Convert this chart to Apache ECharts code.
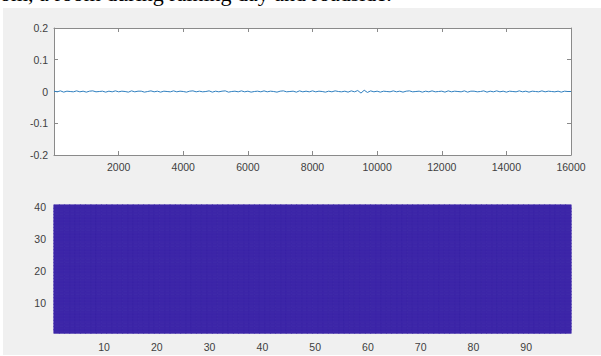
<!DOCTYPE html>
<html><head><meta charset="utf-8">
<script src="https://cdn.jsdelivr.net/npm/echarts@6/dist/echarts.min.js"></script>
<style>html,body{margin:0;padding:0;background:#fff;}#c{width:601px;height:356px;}</style>
</head><body><div id="c"></div>
<script>
// ---- data ----
const titleText = 'om, a room during raining day and roadside.';
const signalStep = 100; // samples between stored points
const signalValues = [
 0.001,-0.001,0.002,-0.002,0.001,0.000,-0.001,0.002,-0.001,0.001,-0.002,0.001,0.002,-0.001,0.000,0.001,-0.002,0.001,-0.001,0.002,
 -0.001,0.001,0.000,-0.002,0.002,-0.001,0.001,0.001,-0.002,0.000,0.002,-0.001,0.001,-0.002,0.001,0.000,-0.001,0.002,-0.001,0.001,
 0.000,-0.002,0.001,0.002,-0.001,0.001,-0.001,0.000,0.002,-0.002,0.001,-0.001,0.001,0.002,-0.002,0.000,0.001,-0.001,0.002,-0.001,
 0.001,-0.002,0.000,0.001,-0.001,0.002,-0.001,0.001,0.000,-0.002,0.001,0.002,-0.001,0.000,0.001,-0.002,0.002,-0.001,0.001,-0.001,
 0.002,-0.001,0.001,0.000,-0.002,0.001,-0.001,0.002,0.000,-0.001,0.001,-0.002,0.002,-0.001,0.003,-0.005,0.004,-0.003,0.002,-0.001,
 0.001,-0.002,0.001,0.000,-0.001,0.002,-0.001,0.001,-0.002,0.001,0.002,-0.001,0.000,0.001,-0.002,0.001,-0.001,0.002,-0.001,0.000,
 0.001,-0.002,0.002,-0.001,0.001,0.000,-0.001,0.002,-0.002,0.001,0.001,-0.001,0.000,0.002,-0.002,0.001,-0.001,0.002,-0.001,0.001,
 -0.002,0.001,0.000,-0.001,0.002,-0.001,0.001,-0.002,0.001,0.000,-0.001,0.002,-0.001,0.001,0.000,-0.001,0.001,-0.002,0.001,0.000,
 0.000
];
const topXTicks = [2000,4000,6000,8000,10000,12000,14000,16000];
const topYTicks = [-0.2,-0.1,0,0.1,0.2];
const imgCols = 98, imgRows = 40;
const imgValue = 0; // the image is one uniform (minimum) value
const imgXTicks = [10,20,30,40,50,60,70,80,90];
const imgYTicks = [10,20,30,40];

// ---- build ----
const lineData = signalValues.map((v,i)=>[i*signalStep, v]);
const colCats = Array.from({length: imgCols}, (_,i)=>String(i+1));
const rowCats = Array.from({length: imgRows}, (_,i)=>String(i+1));
const heatData = [];
for (let c=0;c<imgCols;c++) for (let r=0;r<imgRows;r++) heatData.push([c,r,imgValue]);

const labelColor = '#404040';
const lineColor = '#8a8a8a';
const font = '"Liberation Sans", Arial, sans-serif';
const tick = {show:true, inside:true, length:4, lineStyle:{color:lineColor}};
const axLine = {show:true, onZero:false, lineStyle:{color:lineColor}};

const chart = echarts.init(document.getElementById('c'), null, {renderer:'svg'});
chart.setOption({
  animation:false,
  backgroundColor:'#ffffff',
  graphic:[
    {type:'rect', left:3, top:8, shape:{width:598, height:347}, style:{fill:'#f0f0f0'}, z:-10, silent:true},
    {type:'text', x:0, y:4, style:{text:titleText, font:'22px "Liberation Serif", "Times New Roman", serif', fill:'#000', textVerticalAlign:'bottom', verticalAlign:'bottom'}, z:-5}
  ],
  grid:[
    {left:54, top:28, width:517, height:127, show:true, backgroundColor:'#ffffff', borderWidth:0},
    {left:54, top:205, width:517, height:128, show:false}
  ],
  xAxis:[
    {type:'value', gridIndex:0, min:0, max:16000, interval:2000, position:'bottom',
     axisLine:axLine, axisTick:tick, splitLine:{show:false},
     axisLabel:{color:labelColor, fontSize:10.5, fontFamily:font, margin:6,
       formatter:v=>topXTicks.includes(v)?String(v):''}},
    {type:'value', gridIndex:0, min:0, max:16000, interval:2000, position:'top',
     axisLine:axLine, axisTick:tick, splitLine:{show:false}, axisLabel:{show:false}},
    {type:'category', gridIndex:1, data:colCats, position:'bottom',
     axisLine:{show:true, onZero:false, lineStyle:{color:'#b8b2d6'}}, axisTick:{show:false}, splitLine:{show:false},
     axisLabel:{color:labelColor, fontSize:10.5, fontFamily:font, margin:8, interval:0,
       formatter:v=>imgXTicks.includes(Number(v))?v:''}}
  ],
  yAxis:[
    {type:'value', gridIndex:0, min:-0.2, max:0.2, interval:0.1, position:'left',
     axisLine:axLine, axisTick:tick, splitLine:{show:false},
     axisLabel:{color:labelColor, fontSize:10.5, fontFamily:font, margin:6,
       formatter:v=>{const r=Math.round(v*10)/10; return topYTicks.includes(r)?String(r):'';}}},
    {type:'value', gridIndex:0, min:-0.2, max:0.2, interval:0.1, position:'right',
     axisLine:axLine, axisTick:tick, splitLine:{show:false}, axisLabel:{show:false}},
    {type:'category', gridIndex:1, data:rowCats, position:'left',
     axisLine:{show:true, onZero:false, lineStyle:{color:'#b8b2d6'}}, axisTick:{show:false}, splitLine:{show:false},
     axisLabel:{color:labelColor, fontSize:10.5, fontFamily:font, margin:8, interval:0,
       formatter:v=>imgYTicks.includes(Number(v))?v:''}}
  ],
  visualMap:{show:false, seriesIndex:1, min:0, max:1, inRange:{color:['#3d26a8','#3d26a8']}},
  series:[
    {type:'line', xAxisIndex:0, yAxisIndex:0, data:lineData, showSymbol:false, symbol:'none',
     lineStyle:{color:'#2f7fbf', width:1}},
    {type:'heatmap', xAxisIndex:2, yAxisIndex:2, data:heatData, progressive:0,
     itemStyle:{borderWidth:0.6, borderColor:'#3d26a8'}, emphasis:{disabled:true}}
  ]
});
</script></body></html>
